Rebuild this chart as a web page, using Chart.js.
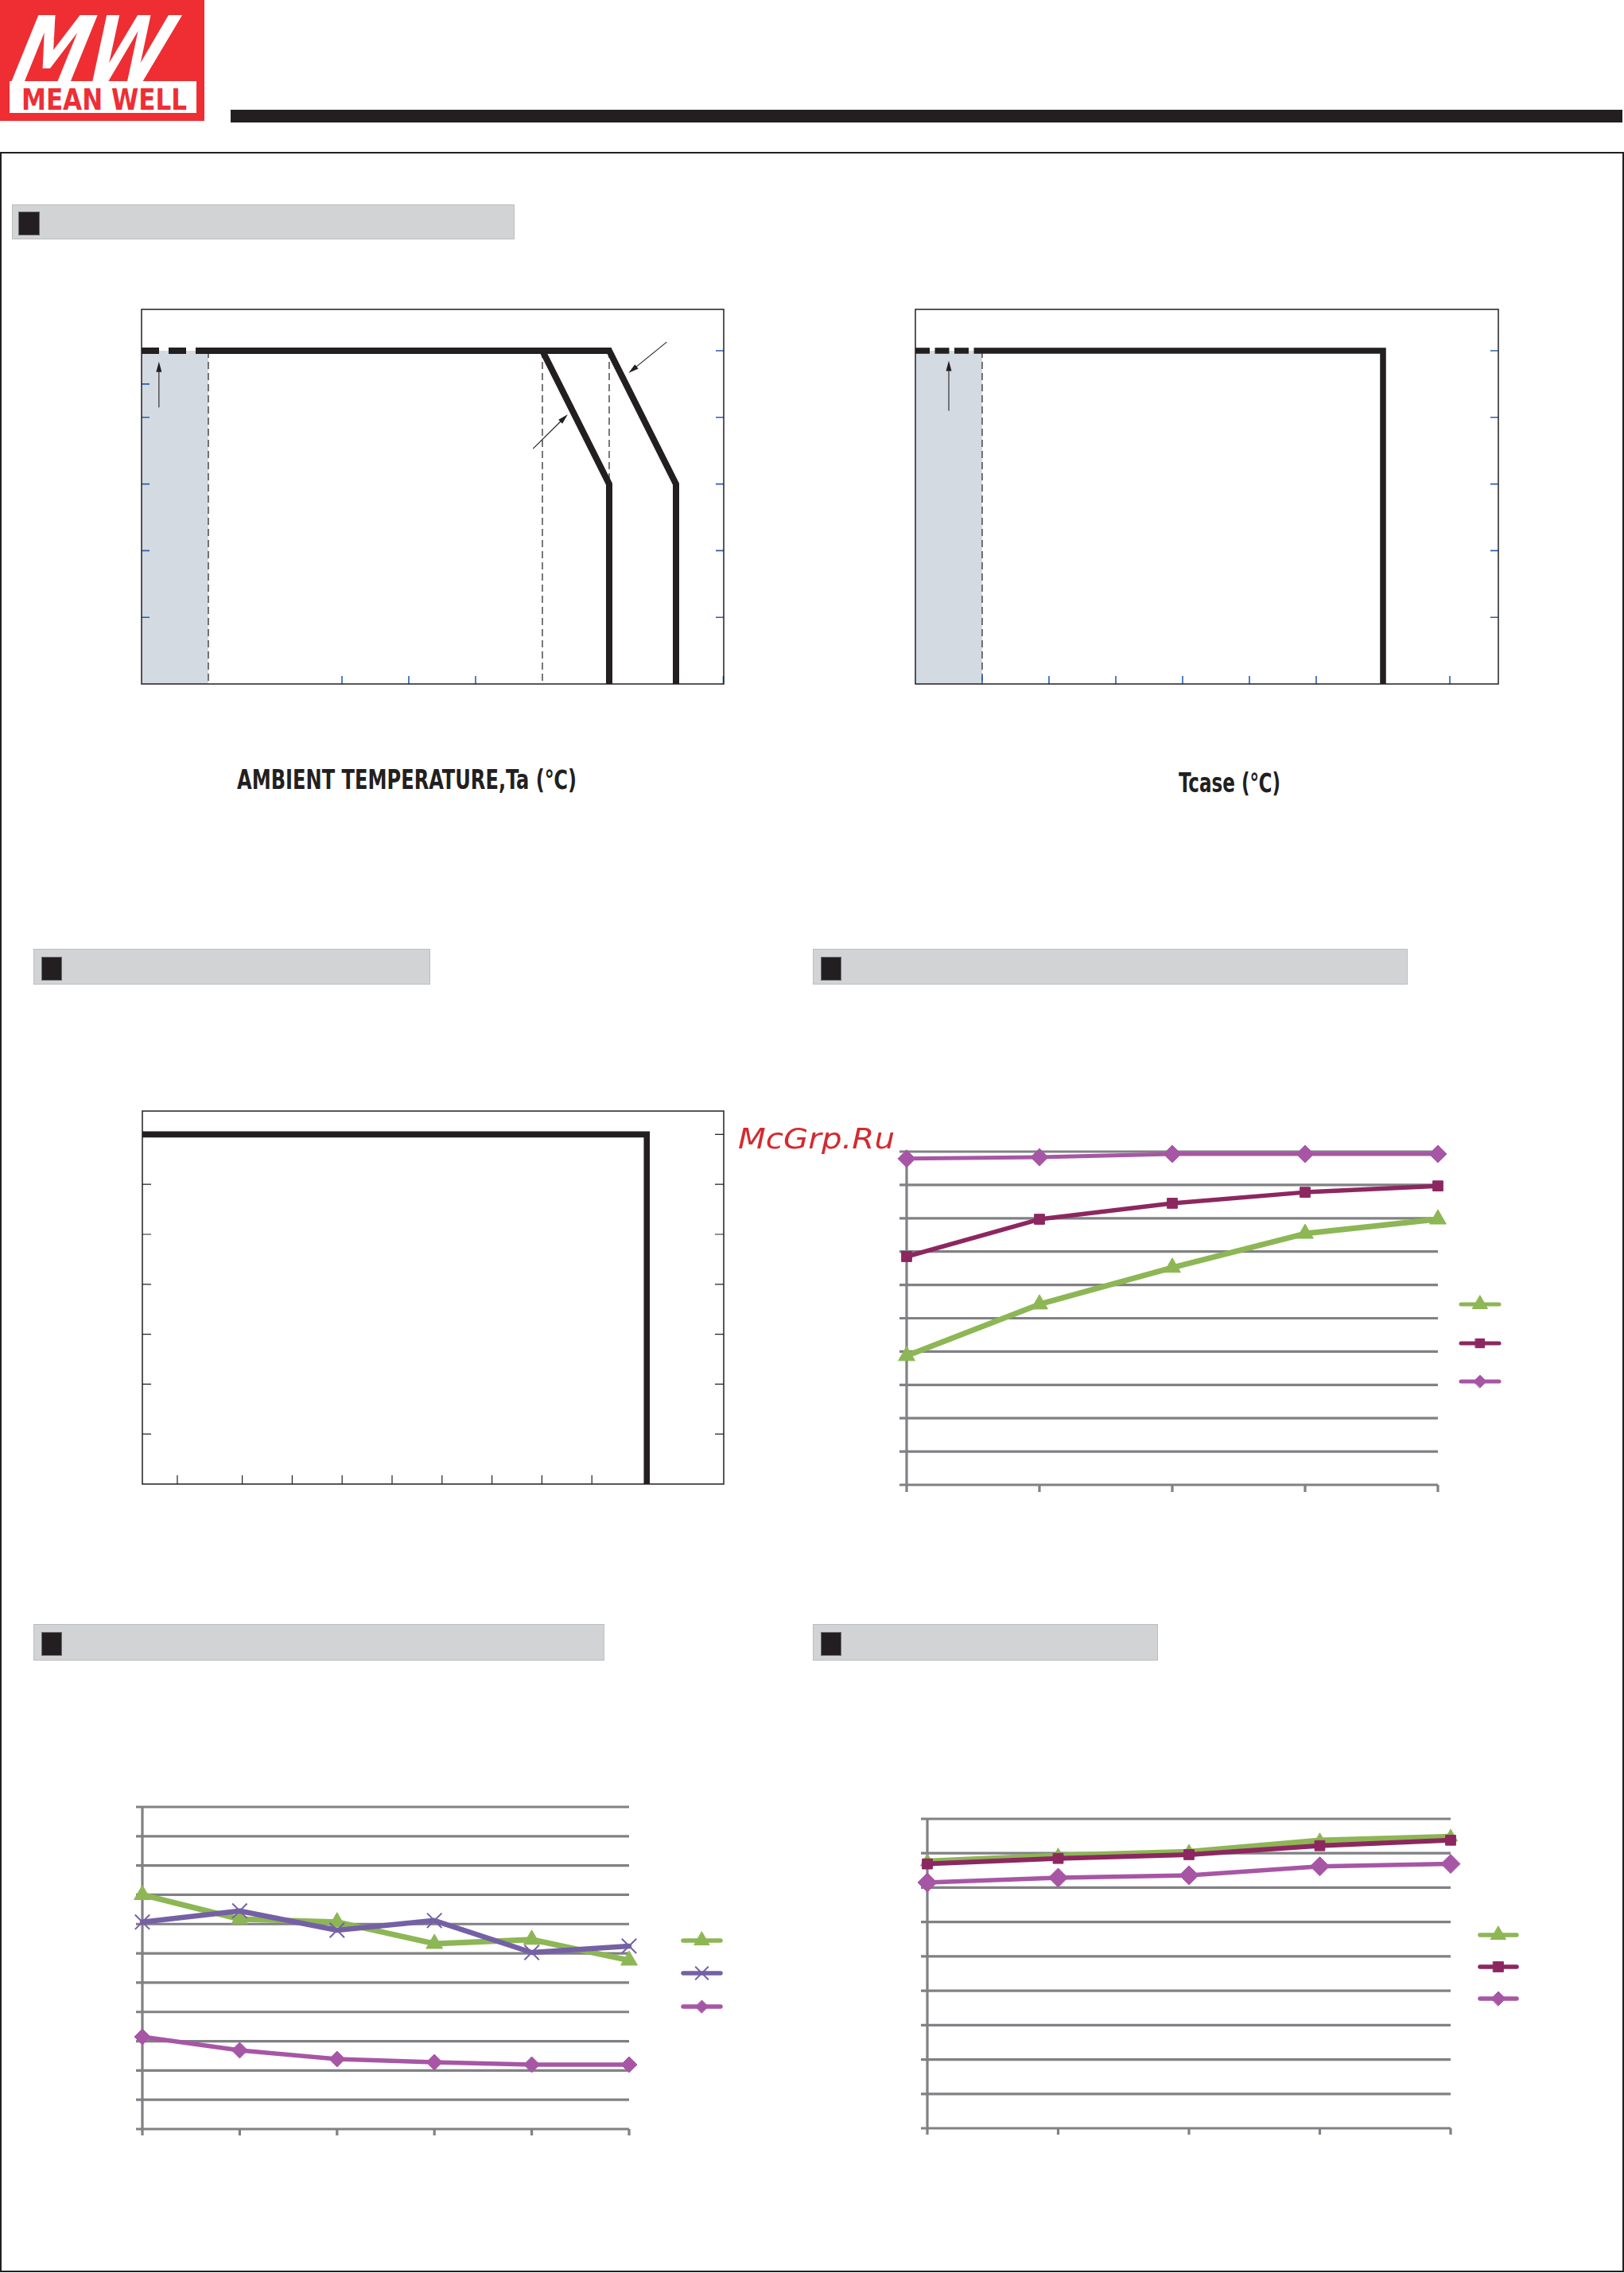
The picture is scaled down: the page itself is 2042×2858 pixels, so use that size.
<!DOCTYPE html>
<html><head><meta charset="utf-8">
<script src="https://cdn.jsdelivr.net/npm/chart.js@4.4.1/dist/chart.umd.min.js"></script>
<style>
html,body{margin:0;padding:0;background:#fff;}
body{width:2042px;height:2858px;position:relative;overflow:hidden;}
.abs{position:absolute;}
.bar{position:absolute;background:#d1d3d4;border:1px solid #bcbec0;box-sizing:border-box;}
.sq{position:absolute;background:#231f20;border:1px solid #6d6e71;box-sizing:border-box;}
canvas{position:absolute;}
.fit{position:absolute;white-space:nowrap;transform-origin:0 0;line-height:1;}
</style></head><body>
<!-- logo -->
<div class="abs" style="left:0;top:0;width:257px;height:152px;background:#ee2e33;overflow:hidden;">
<div class="fit" id="mw" style="left:12px;top:-4px;font:bold italic 114px 'DejaVu Sans Condensed','Liberation Sans Narrow','DejaVu Sans',sans-serif;color:#fff;">MW</div>
</div>
<div class="abs" style="left:12px;top:102px;width:235px;height:40px;background:#fff;"></div>
<div class="fit" id="mwtext" style="left:27px;top:104px;font:bold 37px 'Liberation Sans Narrow','DejaVu Sans Condensed','Liberation Sans',sans-serif;color:#ee2e33;">MEAN WELL</div>
<div class="abs" style="left:290px;top:138px;width:1750px;height:16px;background:#231f20;"></div>
<div class="abs" style="left:0;top:191px;width:2042px;height:2666px;border:2px solid #231f20;box-sizing:border-box;"></div>

<div class="bar" style="left:15px;top:257px;width:632px;height:44px;"></div>
<div class="sq" style="left:23px;top:266px;width:27px;height:30px;"></div>
<div class="bar" style="left:42px;top:1193px;width:499px;height:45px;"></div>
<div class="sq" style="left:52px;top:1203px;width:26px;height:30px;"></div>
<div class="bar" style="left:1022px;top:1193px;width:748px;height:45px;"></div>
<div class="sq" style="left:1032px;top:1203px;width:26px;height:30px;"></div>
<div class="bar" style="left:42px;top:2042px;width:718px;height:46px;"></div>
<div class="sq" style="left:52px;top:2052px;width:26px;height:30px;"></div>
<div class="bar" style="left:1022px;top:2042px;width:434px;height:46px;"></div>
<div class="sq" style="left:1032px;top:2052px;width:26px;height:30px;"></div>

<div class="fit" id="ambLbl" style="left:298px;top:961px;font:bold 33px 'Liberation Sans Narrow','DejaVu Sans Condensed','Liberation Sans',sans-serif;color:#231f20;">AMBIENT TEMPERATURE,Ta (℃)</div>
<div class="fit" id="caseLbl" style="left:1482px;top:965px;font:bold 33px 'Liberation Sans Narrow','DejaVu Sans Condensed','Liberation Sans',sans-serif;color:#231f20;">Tcase (℃)</div>

<script>
// ================= DATA =================
// Derating curve vs ambient temperature
const ambTempCold = [-30, -20];
const ambLoadCold = [100, 100];
const ambTempA = [-20, 30, 40, 40];
const ambLoadA = [100, 100, 60, 0];
const ambTempB = [-20, 40, 50, 50];
const ambLoadB = [100, 100, 60, 0];
const ambGuideTemps = [-20, 30, 40];
const ambLoadTicksRight = [100, 80, 60, 40, 20];
const ambLoadTicksLeft = [90, 80, 60, 40, 20];
const ambTempTicks = [0, 10, 20];
const ambArrows = [[48.6, 102.6, 42.9, 93.3], [28.6, 70.6, 33.8, 80.9], [-27.4, 83, -27.4, 96.7]];

// Derating curve vs Tcase
const caseTempCold = [-30, -20];
const caseLoadCold = [100, 100];
const caseTemp = [-20, 40, 40];
const caseLoad = [100, 100, 0];
const caseGuideTemps = [-20];
const caseLoadTicks = [100, 80, 60, 40, 20];
const caseTempTicks = [-20, -10, 0, 10, 20, 30, 50];
const caseArrows = [[-25, 82, -25, 97]];

// Static characteristic
const staticVin = [0, 101, 101];
const staticLoad = [100, 100, 30];
const staticVinTicks = [7, 20, 30, 40, 50, 60, 70, 80, 90];
const staticLoadTicksLeft = [90, 80, 70, 60, 50, 40];
const staticLoadTicksRight = [100, 90, 80, 70, 60, 50, 40];

// Line chart (middle right)
const midCategories = ['1', '2', '3', '4', '5'];
const midSeriesTri = [38.7, 54.2, 65.2, 75.4, 79.7];
const midSeriesSq = [68.5, 79.7, 84.5, 87.8, 89.7];
const midSeriesDia = [97.9, 98.3, 99.3, 99.3, 99.3];

// Line chart (bottom left)
const lowLCategories = ['1', '2', '3', '4', '5', '6'];
const lowLSeriesTri = [8.0, 7.17, 7.07, 6.33, 6.47, 5.76];
const lowLSeriesX = [7.07, 7.45, 6.79, 7.12, 6.03, 6.25];
const lowLSeriesDia = [3.15, 2.69, 2.39, 2.28, 2.20, 2.20];

// Line chart (bottom right)
const lowRCategories = ['1', '2', '3', '4', '5'];
const lowRSeriesTri = [7.75, 7.92, 8.03, 8.36, 8.47];
const lowRSeriesSq = [7.69, 7.85, 7.96, 8.22, 8.38];
const lowRSeriesDia = [7.15, 7.29, 7.36, 7.62, 7.69];

// ================= STYLE =================
const INK = '#231f20', BLUE = '#2b5fab', SHADE = '#d3dae1', GRID = '#808184';
const GREEN = '#8db655', MAROON = '#8d2760', ORCHID = '#a756a5', PURPLE = '#7560a5';

function pts(xs, ys) { return xs.map((x, i) => ({x: x, y: ys[i]})); }

function mount(area, pad) {
  const c = document.createElement('canvas');
  const w = area.w + pad.l + pad.r, h = area.h + pad.t + pad.b;
  c.width = w; c.height = h;
  c.style.left = (area.l - pad.l) + 'px'; c.style.top = (area.t - pad.t) + 'px';
  c.style.width = w + 'px'; c.style.height = h + 'px';
  document.body.appendChild(c);
  return c;
}
function baseOpts(pad, xs, ys, plug) {
  return {
    responsive: false, maintainAspectRatio: false, animation: false, devicePixelRatio: 1, events: [],
    layout: {padding: {left: pad.l, right: pad.r, top: pad.t, bottom: pad.b}},
    plugins: Object.assign({legend: {display: false}, tooltip: {enabled: false}}, plug),
    scales: {x: Object.assign({display: false}, xs), y: Object.assign({display: false, bounds: 'data'}, ys)}
  };
}
function arrow(ctx, x1, y1, x2, y2) {
  const ang = Math.atan2(y2 - y1, x2 - x1), L = 13, Wd = 3.5;
  ctx.beginPath(); ctx.moveTo(x1, y1);
  ctx.lineTo(x2 - Math.cos(ang) * (L - 2), y2 - Math.sin(ang) * (L - 2)); ctx.stroke();
  ctx.beginPath(); ctx.moveTo(x2, y2);
  ctx.lineTo(x2 - Math.cos(ang) * L - Math.sin(ang) * Wd, y2 - Math.sin(ang) * L + Math.cos(ang) * Wd);
  ctx.lineTo(x2 - Math.cos(ang) * L + Math.sin(ang) * Wd, y2 - Math.sin(ang) * L - Math.cos(ang) * Wd);
  ctx.closePath(); ctx.fill();
}

const deratePlugin = {
  id: 'derate',
  afterDatasetsDraw(chart, args, o) {
    const ctx = chart.ctx, a = chart.chartArea, x = chart.scales.x, y = chart.scales.y;
    ctx.save();
    ctx.strokeStyle = o.tickColor; ctx.lineWidth = o.tickWidth; ctx.beginPath();
    (o.right || []).forEach(v => { const p = y.getPixelForValue(v); ctx.moveTo(a.right - o.len, p); ctx.lineTo(a.right, p); });
    (o.left || []).forEach(v => { const p = y.getPixelForValue(v); ctx.moveTo(a.left, p); ctx.lineTo(a.left + o.len, p); });
    (o.bottom || []).forEach(v => { const p = x.getPixelForValue(v); ctx.moveTo(p, a.bottom); ctx.lineTo(p, a.bottom - o.len); });
    if (o.cornerTick) { ctx.moveTo(a.right - 0.5, a.bottom); ctx.lineTo(a.right - 0.5, a.bottom - o.len); }
    ctx.stroke();
    ctx.strokeStyle = INK; ctx.lineWidth = o.borderWidth;
    ctx.strokeRect(a.left, a.top, a.right - a.left, a.bottom - a.top);
    ctx.strokeStyle = INK; ctx.fillStyle = INK; ctx.lineWidth = 1.1;
    (o.arrows || []).forEach(r => arrow(ctx, x.getPixelForValue(r[0]), y.getPixelForValue(r[1]), x.getPixelForValue(r[2]), y.getPixelForValue(r[3])));
    ctx.restore();
  }
};

function drawMarker(ctx, style, r, cx, cy, color, bw) {
  ctx.fillStyle = color; ctx.strokeStyle = color; ctx.lineWidth = bw;
  if (Chart.helpers && Chart.helpers.drawPoint) {
    Chart.helpers.drawPoint(ctx, {pointStyle: style, radius: r, rotation: 0, borderWidth: bw}, cx, cy);
  }
}

const gridPlugin = {
  id: 'xlgrid',
  beforeDatasetsDraw(chart, args, o) {
    const ctx = chart.ctx, a = chart.chartArea, x = chart.scales.x, y = chart.scales.y;
    ctx.save();
    ctx.strokeStyle = o.color; ctx.lineWidth = o.width; ctx.lineCap = 'butt'; ctx.beginPath();
    for (let v = y.min; v <= y.max + 1e-9; v += o.step) {
      const p = y.getPixelForValue(v); ctx.moveTo(a.left - o.len, p); ctx.lineTo(a.right, p);
    }
    ctx.moveTo(a.left, a.top - o.width / 2); ctx.lineTo(a.left, a.bottom + o.len);
    chart.data.labels.forEach((l, i) => { const p = x.getPixelForValue(i); ctx.moveTo(p, a.bottom); ctx.lineTo(p, a.bottom + o.len); });
    ctx.stroke();
    ctx.restore();
  },
  afterDatasetsDraw(chart, args, o) {
    const ctx = chart.ctx, a = chart.chartArea, lg = o.legend;
    ctx.save();
    lg.order.forEach((di, k) => {
      const ds = chart.data.datasets[di];
      const yy = a.top + lg.ys[k];
      ctx.strokeStyle = ds.borderColor; ctx.lineWidth = lg.lineWidth; ctx.lineCap = 'round';
      ctx.beginPath(); ctx.moveTo(a.right + lg.x1, yy); ctx.lineTo(a.right + lg.x2, yy); ctx.stroke();
      drawMarker(ctx, ds.pointStyle, lg.radii[k], a.right + (lg.x1 + lg.x2) / 2, yy, ds.borderColor, ds.pointBorderWidth || 1);
    });
    ctx.restore();
  }
};

function thick(data, w, dash, order) {
  return {data: data, borderColor: INK, borderWidth: w, borderDash: dash || [], pointRadius: 0,
    borderJoinStyle: 'miter', borderCapStyle: 'butt', tension: 0, fill: false, clip: false, order: order};
}
function guide(xv, top) {
  return {data: [{x: xv, y: top}, {x: xv, y: 0}], borderColor: INK, borderWidth: 1.2, borderDash: [9, 5],
    pointRadius: 0, fill: false, clip: false, order: 8};
}
function shade(xs, ys) {
  return {data: pts(xs, ys), borderWidth: 0, borderColor: 'rgba(0,0,0,0)', backgroundColor: SHADE,
    fill: 'origin', pointRadius: 0, order: 10};
}

// ===== Chart 1: ambient derating =====
(function () {
  const area = {l: 178, t: 389, w: 732, h: 471}, pad = {l: 20, r: 20, t: 20, b: 20};
  const ds = [shade(ambTempCold, ambLoadCold)];
  ambGuideTemps.forEach(t => ds.push(guide(t, 100)));
  ds.push(thick(pts(ambTempCold, ambLoadCold), 8, [22, 12], 2));
  ds.push(thick(pts(ambTempA, ambLoadA), 8, null, 1));
  ds.push(thick(pts(ambTempB, ambLoadB), 8, null, 1));
  new Chart(mount(area, pad), {
    type: 'line', data: {datasets: ds},
    options: baseOpts(pad, {type: 'linear', min: -30, max: -30 + 732 / 8.4}, {min: 0, max: 471 / 4.19},
      {derate: {tickColor: BLUE, tickWidth: 1.6, len: 10, borderWidth: 1.5, right: ambLoadTicksRight,
        left: ambLoadTicksLeft, bottom: ambTempTicks, cornerTick: true, arrows: ambArrows}}),
    plugins: [deratePlugin]
  });
})();

// ===== Chart 2: Tcase derating =====
(function () {
  const area = {l: 1151, t: 389, w: 733, h: 471}, pad = {l: 20, r: 20, t: 20, b: 20};
  const ds = [shade(caseTempCold, caseLoadCold)];
  caseGuideTemps.forEach(t => ds.push(guide(t, 100)));
  ds.push(thick(pts(caseTempCold, caseLoadCold), 7.5, [18, 6.5], 2));
  ds.push(thick(pts(caseTemp, caseLoad), 7.5, null, 1));
  new Chart(mount(area, pad), {
    type: 'line', data: {datasets: ds},
    options: baseOpts(pad, {type: 'linear', min: -30, max: -30 + 733 / 8.4}, {min: 0, max: 471 / 4.19},
      {derate: {tickColor: BLUE, tickWidth: 1.6, len: 10, borderWidth: 1.5, right: caseLoadTicks,
        bottom: caseTempTicks, arrows: caseArrows}}),
    plugins: [deratePlugin]
  });
})();

// ===== Chart 3: static characteristic =====
(function () {
  const area = {l: 179, t: 1397, w: 731, h: 469}, pad = {l: 20, r: 20, t: 20, b: 20};
  const ds = [thick(pts(staticVin, staticLoad), 7.6, null, 1)];
  new Chart(mount(area, pad), {
    type: 'line', data: {datasets: ds},
    options: baseOpts(pad, {type: 'linear', min: 0, max: 731 / 6.28}, {min: 30, max: 30 + 469 / 6.28},
      {derate: {tickColor: INK, tickWidth: 1.2, len: 11, borderWidth: 1.5, right: staticLoadTicksRight,
        left: staticLoadTicksLeft, bottom: staticVinTicks}}),
    plugins: [deratePlugin]
  });
})();

function series(data, color, width, style, r, order, bw) {
  return {data: data, borderColor: color, backgroundColor: color, borderWidth: width, pointStyle: style,
    pointRadius: r, pointBackgroundColor: color, pointBorderColor: color, pointBorderWidth: bw || 1,
    tension: 0, fill: false, clip: false, order: order, borderJoinStyle: 'round', borderCapStyle: 'round'};
}

// ===== Chart 4 =====
(function () {
  const area = {l: 1140, t: 1448, w: 668, h: 419}, pad = {l: 30, r: 110, t: 20, b: 20};
  new Chart(mount(area, pad), {
    type: 'line',
    data: {labels: midCategories, datasets: [
      series(midSeriesTri, GREEN, 7, 'triangle', 12, 3),
      series(midSeriesSq, MAROON, 5.5, 'rect', 9, 2),
      series(midSeriesDia, ORCHID, 5, 'rectRot', 11, 1)
    ]},
    options: baseOpts(pad, {type: 'category'}, {min: 0, max: 100},
      {xlgrid: {color: GRID, width: 3.2, len: 9, step: 10,
        legend: {order: [0, 1, 2], x1: 29, x2: 77, ys: [192, 241, 289], radii: [11, 8, 8], lineWidth: 5}}}),
    plugins: [gridPlugin]
  });
})();

// ===== Chart 5 =====
(function () {
  const area = {l: 179, t: 2272, w: 612, h: 405}, pad = {l: 30, r: 140, t: 20, b: 20};
  new Chart(mount(area, pad), {
    type: 'line',
    data: {labels: lowLCategories, datasets: [
      series(lowLSeriesTri, GREEN, 7, 'triangle', 12, 3),
      series(lowLSeriesX, PURPLE, 6.5, 'crossRot', 13, 2, 2),
      series(lowLSeriesDia, ORCHID, 5.5, 'rectRot', 10, 1)
    ]},
    options: baseOpts(pad, {type: 'category'}, {min: 0, max: 11},
      {xlgrid: {color: GRID, width: 3.2, len: 8, step: 1,
        legend: {order: [0, 1, 2], x1: 68, x2: 115, ys: [168, 209, 251], radii: [11, 11, 8], lineWidth: 5.5}}}),
    plugins: [gridPlugin]
  });
})();

// ===== Chart 6 =====
(function () {
  const area = {l: 1166, t: 2287, w: 658, h: 389}, pad = {l: 30, r: 110, t: 20, b: 20};
  new Chart(mount(area, pad), {
    type: 'line',
    data: {labels: lowRCategories, datasets: [
      series(lowRSeriesTri, GREEN, 8.5, 'triangle', 10, 3),
      series(lowRSeriesSq, MAROON, 6, 'rect', 9, 2),
      series(lowRSeriesDia, ORCHID, 5.5, 'rectRot', 12, 1)
    ]},
    options: baseOpts(pad, {type: 'category'}, {min: 0, max: 9},
      {xlgrid: {color: GRID, width: 3.2, len: 8, step: 1,
        legend: {order: [0, 1, 2], x1: 37, x2: 83, ys: [146, 186, 226], radii: [11, 9, 9], lineWidth: 5.5}}}),
    plugins: [gridPlugin]
  });
})();

// watermark
(function () {
  const d = document.createElement('div');
  d.className = 'fit'; d.id = 'wm';
  d.style.cssText = "left:928px;top:1411px;font:italic 36px 'DejaVu Sans','Open Sans',sans-serif;color:#d42a2e;z-index:5;";
  d.textContent = 'McGrp.Ru';
  document.body.appendChild(d);
})();

function fitAll() {
  [['mw', 192], ['mwtext', 208], ['ambLbl', 427], ['caseLbl', 128], ['wm', 197]].forEach(p => {
    const el = document.getElementById(p[0]);
    el.style.transform = 'none';
    const w = el.getBoundingClientRect().width;
    let t = 'scaleX(' + (p[1] / w) + ')';
    if (p[0] === 'mw') { el.style.transformOrigin = '0 82%'; t = 'skewX(-14deg) ' + t; }
    el.style.transform = t;
  });
}
fitAll();
if (document.fonts && document.fonts.ready) document.fonts.ready.then(fitAll);
</script>
</body></html>
